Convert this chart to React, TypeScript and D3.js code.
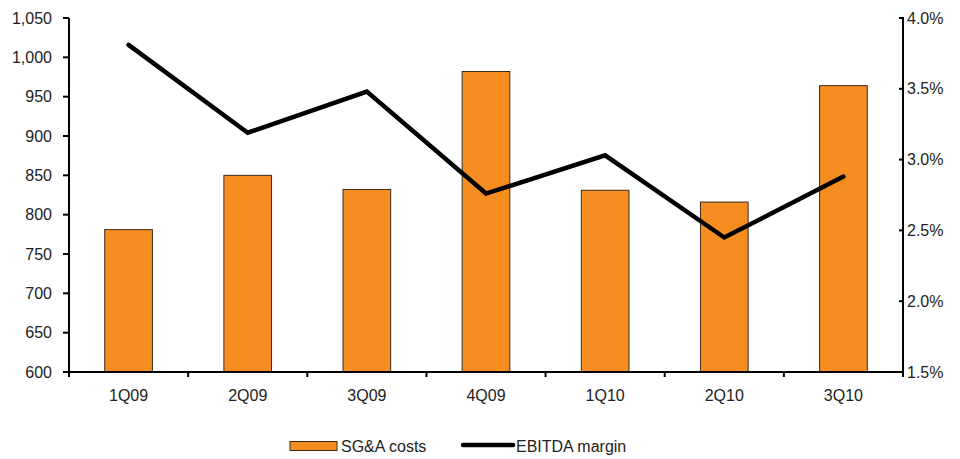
import { useEffect, useRef } from 'react'
import * as d3 from 'd3'

const quarters = ['1Q09', '2Q09', '3Q09', '4Q09', '1Q10', '2Q10', '3Q10']
const sgaCosts = [781, 850, 832, 982, 831, 816, 964]
const ebitdaMargin = [3.81, 3.19, 3.48, 2.76, 3.03, 2.45, 2.88]
const leftTicks = [600, 650, 700, 750, 800, 850, 900, 950, 1000, 1050]
const rightTicks = [1.5, 2.0, 2.5, 3.0, 3.5, 4.0]

const width = 960
const height = 459
const margin = { top: 18, right: 57, bottom: 87, left: 69 }

export default function App() {
  const svgRef = useRef<SVGSVGElement>(null)

  useEffect(() => {
    if (!svgRef.current) return
    const root = d3.select(svgRef.current)
    root.selectAll('*').remove()

    const innerW = width - margin.left - margin.right
    const innerH = height - margin.top - margin.bottom
    const font = 'Liberation Sans, Arial, sans-serif'
    const fs = 16

    const g = root.append('g').attr('transform', `translate(${margin.left},${margin.top})`)

    const x = d3.scaleBand<string>().domain(quarters).range([0, innerW]).paddingInner(0.6).paddingOuter(0.3)
    const xTicks = d3.scaleBand<string>().domain(quarters).range([0, innerW])
    const yLeft = d3.scaleLinear().domain([600, 1050]).range([innerH, 0])
    const yRight = d3.scaleLinear().domain([1.5, 4.0]).range([innerH, 0])

    // bars
    g.selectAll('rect.bar')
      .data(sgaCosts)
      .enter()
      .append('rect')
      .attr('class', 'bar')
      .attr('x', (_d, i) => x(quarters[i])!)
      .attr('y', d => yLeft(d))
      .attr('width', x.bandwidth())
      .attr('height', d => innerH - yLeft(d))
      .attr('fill', '#F58D20')
      .attr('stroke', '#3a2a1a')
      .attr('stroke-width', 1)

    // line
    const line = d3.line<number>()
      .x((_d, i) => xTicks(quarters[i])! + xTicks.bandwidth() / 2)
      .y(d => yRight(d))
    g.append('path')
      .datum(ebitdaMargin)
      .attr('d', line)
      .attr('fill', 'none')
      .attr('stroke', '#000')
      .attr('stroke-width', 4.5)
      .attr('stroke-linejoin', 'miter')
      .attr('stroke-linecap', 'round')

    // left axis
    const left = g.append('g')
    left.append('line').attr('x1', 0).attr('x2', 0).attr('y1', 0).attr('y2', innerH)
      .attr('stroke', '#000').attr('stroke-width', 2)
    left.selectAll('line.tick').data(leftTicks).enter().append('line')
      .attr('x1', -6).attr('x2', 0).attr('y1', d => yLeft(d)).attr('y2', d => yLeft(d))
      .attr('stroke', '#000').attr('stroke-width', 2)
    left.selectAll('text').data(leftTicks).enter().append('text')
      .attr('x', -17).attr('y', d => yLeft(d)).attr('dy', '0.35em')
      .attr('text-anchor', 'end').attr('font-family', font).attr('font-size', fs).attr('fill', '#222')
      .text(d => d3.format(',')(d))

    // right axis
    const right = g.append('g').attr('transform', `translate(${innerW},0)`)
    right.append('line').attr('x1', 0).attr('x2', 0).attr('y1', 0).attr('y2', innerH)
      .attr('stroke', '#000').attr('stroke-width', 2)
    right.selectAll('line.tick').data(rightTicks).enter().append('line')
      .attr('x1', -4).attr('x2', 1).attr('y1', d => yRight(d)).attr('y2', d => yRight(d))
      .attr('stroke', '#000').attr('stroke-width', 2)
    right.selectAll('text').data(rightTicks).enter().append('text')
      .attr('x', 4).attr('y', d => yRight(d)).attr('dy', '0.35em')
      .attr('text-anchor', 'start').attr('font-family', font).attr('font-size', fs).attr('fill', '#222')
      .text(d => d.toFixed(1) + '%')

    // bottom axis
    const bottom = g.append('g').attr('transform', `translate(0,${innerH})`)
    bottom.append('line').attr('x1', -6).attr('x2', innerW).attr('y1', 0).attr('y2', 0)
      .attr('stroke', '#000').attr('stroke-width', 2)
    const tickPos = quarters.map(q => xTicks(q)!).concat([innerW])
    bottom.selectAll('line.tick').data(tickPos).enter().append('line')
      .attr('x1', d => d).attr('x2', d => d).attr('y1', 0).attr('y2', 5)
      .attr('stroke', '#000').attr('stroke-width', 2)
    bottom.selectAll('text').data(quarters).enter().append('text')
      .attr('x', d => xTicks(d)! + xTicks.bandwidth() / 2).attr('y', 23).attr('dy', '0.35em')
      .attr('text-anchor', 'middle').attr('font-family', font).attr('font-size', fs).attr('fill', '#222')
      .text(d => d)

    // legend
    const legend = root.append('g').attr('font-family', font).attr('font-size', fs).attr('fill', '#222')
    legend.append('rect').attr('x', 290).attr('y', 441.5).attr('width', 47).attr('height', 9)
      .attr('fill', '#F58D20').attr('stroke', '#3a2a1a').attr('stroke-width', 1)
    legend.append('text').attr('x', 341).attr('y', 446.5).attr('dy', '0.35em').text('SG&A costs')
    legend.append('line').attr('x1', 463).attr('x2', 513).attr('y1', 445).attr('y2', 445)
      .attr('stroke', '#000').attr('stroke-width', 4.5).attr('stroke-linecap', 'round')
    legend.append('text').attr('x', 516).attr('y', 446.5).attr('dy', '0.35em').text('EBITDA margin')
  }, [])

  return (
    <svg ref={svgRef} width={width} height={height}
      style={{ position: 'absolute', left: 0, top: 0, background: '#fff' }} />
  )
}
